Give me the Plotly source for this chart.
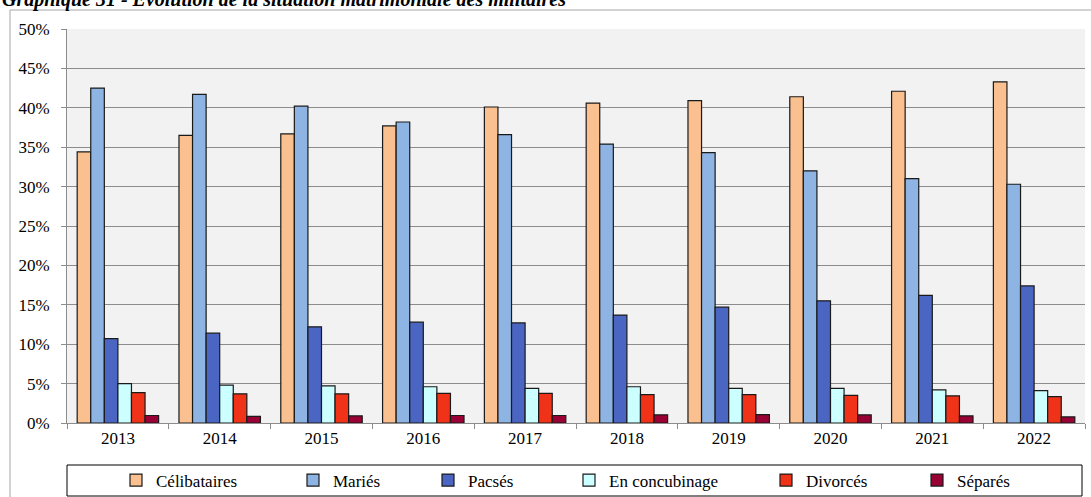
import plotly.graph_objects as go

years = ["2013", "2014", "2015", "2016", "2017", "2018", "2019", "2020", "2021", "2022"]
celibataires = [34.4, 36.5, 36.7, 37.7, 40.1, 40.6, 40.9, 41.4, 42.1, 43.3]
maries = [42.5, 41.7, 40.2, 38.2, 36.6, 35.4, 34.3, 32.0, 31.0, 30.3]
pacses = [10.7, 11.4, 12.2, 12.8, 12.7, 13.7, 14.7, 15.5, 16.2, 17.4]
concubinage = [5.0, 4.8, 4.7, 4.6, 4.4, 4.6, 4.4, 4.4, 4.2, 4.1]
divorces = [3.85, 3.7, 3.7, 3.75, 3.75, 3.6, 3.6, 3.5, 3.45, 3.35]
separes = [0.95, 0.85, 0.9, 0.95, 0.95, 1.03, 1.07, 1.03, 0.9, 0.77]

series = [
    ("Célibataires", celibataires, "#FAC090"),
    ("Mariés", maries, "#8EB4E3"),
    ("Pacsés", pacses, "#4A66C2"),
    ("En concubinage", concubinage, "#CCFFFF"),
    ("Divorcés", divorces, "#F03318"),
    ("Séparés", separes, "#990033"),
]
title = "Graphique 31 - Évolution de la situation matrimoniale des militaires"

W, H = 1091, 497
L, R, T, B = 67, 1085, 29, 423
FONT = "Liberation Serif"


def px_x(p):
    return (p - L) / (R - L)


def px_y(p):
    return (B - p) / (B - T)


legend_text_px = [156, 333, 468, 609, 806, 957]

fig = go.Figure()
legends = {}
for i, (name, vals, col) in enumerate(series):
    lname = "legend" if i == 0 else f"legend{i+1}"
    fig.add_trace(go.Bar(
        x=years, y=vals, name=name,
        marker=dict(color=col, line=dict(color="#1A1A1A", width=1.2)),
        legend=lname, showlegend=True,
    ))
    legends[lname] = dict(
        x=px_x(legend_text_px[i] - 40), xanchor="left",
        y=px_y(480.5), yanchor="middle",
        bgcolor="rgba(0,0,0,0)", borderwidth=0,
        font=dict(family=FONT, size=17, color="black"),
        orientation="h",
    )

fig.update_layout(
    width=W, height=H,
    showlegend=True,
    margin=dict(l=L, r=W - R, t=T, b=H - B, pad=0, autoexpand=False),
    paper_bgcolor="white",
    plot_bgcolor="#F2F2F2",
    barmode="group",
    bargap=0.2,
    bargroupgap=0,
    font=dict(family=FONT, size=17, color="black"),
    xaxis=dict(
        type="category",
        showline=True, linecolor="#8C8C8C", linewidth=1,
        ticks="outside", tickson="boundaries", ticklen=5, tickcolor="#8C8C8C",
        showgrid=False,
        tickfont=dict(family=FONT, size=17, color="black"),
    ),
    yaxis=dict(
        range=[0, 50], dtick=5, ticksuffix="%",
        showline=True, linecolor="#8C8C8C", linewidth=1,
        ticks="outside", ticklen=5, tickcolor="#8C8C8C",
        gridcolor="#8C8C8C", gridwidth=1,
        zeroline=False,
        ticklabelstandoff=8,
        tickfont=dict(family=FONT, size=17, color="black"),
    ),
    **legends,
    shapes=[
        dict(type="rect", xref="paper", yref="paper",
             x0=px_x(10), x1=px_x(1200), y0=px_y(600), y1=px_y(10),
             line=dict(color="#A6A6A6", width=1), fillcolor="rgba(0,0,0,0)", layer="below"),
        dict(type="rect", xref="paper", yref="paper",
             x0=px_x(67), x1=px_x(1082), y0=px_y(496), y1=px_y(465),
             line=dict(color="black", width=1), fillcolor="rgba(0,0,0,0)"),
    ],
    annotations=[
        dict(text=title, xref="paper", yref="paper", x=px_x(0), y=px_y(13),
             xanchor="left", yanchor="bottom", showarrow=False,
             font=dict(family=FONT, size=20, color="black", style="italic", weight="bold")),
    ],
)

fig.write_html(
    "out.html",
    config={"displayModeBar": False},
    post_script="document.body.style.margin='0';document.body.style.overflow='hidden';",
)
